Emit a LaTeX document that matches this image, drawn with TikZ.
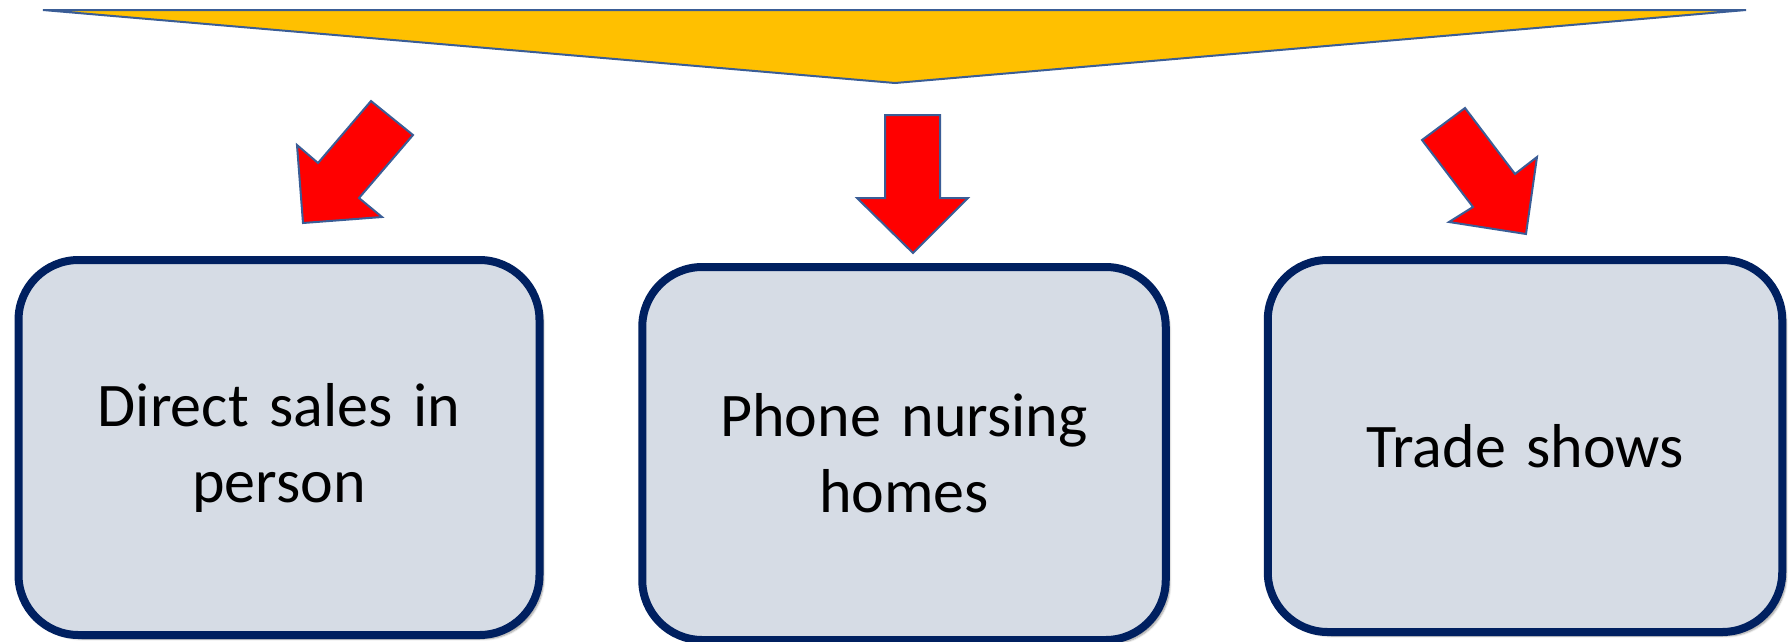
\documentclass[tikz,border=0pt]{standalone}
\usepackage{fontspec}
\setmainfont{Carlito}
\usetikzlibrary{shadows.blur}
\definecolor{funnelfill}{HTML}{FFC000}
\definecolor{shapeline}{HTML}{3A5D96}
\definecolor{boxfill}{HTML}{D6DCE5}
\definecolor{boxline}{HTML}{002060}
\begin{document}
\begin{tikzpicture}[x=1pt,y=-1pt,
  channel/.style={draw=boxline, line width=8pt, fill=boxfill,
    rounded corners=60pt, align=center, inner sep=0pt,
    font=\fontsize{62}{76}\selectfont,
    blur shadow={shadow xshift=4pt, shadow yshift=-4pt, shadow blur steps=6, shadow opacity=40}},
  blockarrow/.style={draw=shapeline, line width=2pt, fill=red, line join=miter},
  funnel/.style={draw=shapeline, line width=2pt, fill=funnelfill, line join=miter}]
  \useasboundingbox (0,0) rectangle (1789,641);

  % funnel at the top
  \draw[funnel] (43,10) -- (1746,10) -- (895,83) -- cycle;

  % three channels
  \node[channel, minimum width=521pt, minimum height=375pt, text width=500pt]
    (direct) at (279,447.5) {\raisebox{-15pt}{\parbox{500pt}{\centering Direct sales in\\ person}}};
  \node[channel, minimum width=523.5pt, minimum height=373pt, text width=500pt]
    (phone) at (904,453.5) {\raisebox{-6pt}{\parbox{500pt}{\centering Phone nursing\\ homes}}};
  \node[channel, minimum width=514.5pt, minimum height=372pt, text width=500pt]
    (trade) at (1525,446) {\raisebox{-2pt}{Trade shows}};

  % block arrows pointing to the channels
  \draw[blockarrow] (371,101) -- (413,135) -- (359,198) -- (382,217)
    -- (303,223) -- (297,145) -- (318,163) -- cycle;
  \draw[blockarrow] (885,115) -- (940,115) -- (940,198) -- (968,198)
    -- (913,253) -- (857,198) -- (885,198) -- cycle;
  \draw[blockarrow] (1422,140) -- (1465,108) -- (1515,174) -- (1537,157)
    -- (1526,234) -- (1449,222) -- (1473,207) -- cycle;
\end{tikzpicture}
\end{document}
